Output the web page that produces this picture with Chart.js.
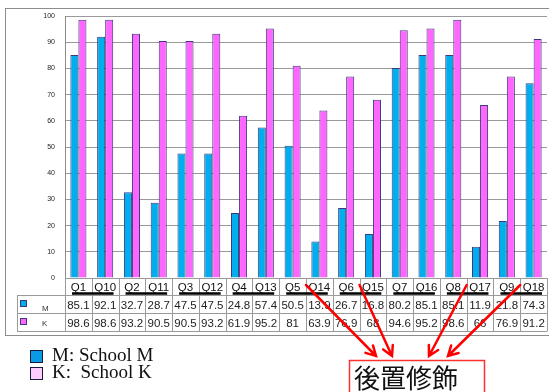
<!DOCTYPE html>
<html>
<head>
<meta charset="utf-8">
<script src="https://cdn.jsdelivr.net/npm/chart.js@4/dist/chart.umd.min.js"></script>
<style>
  html, body { margin: 0; padding: 0; background: #fff; }
  #wrap { width: 549px; height: 392px; position: relative; }
</style>
</head>
<body>
<div id="wrap"><canvas id="c" width="549" height="392"></canvas></div>
<script>
// Question labels (paired: Qn with its counterpart)
const questions = ['Q1','Q10','Q2','Q11','Q3','Q12','Q4','Q13','Q5','Q14','Q6','Q15','Q7','Q16','Q8','Q17','Q9','Q18'];
// Percentage correct, School M
const schoolM = [85.1,92.1,32.7,28.7,47.5,47.5,24.8,57.4,50.5,13.9,26.7,16.8,80.2,85.1,85.1,11.9,21.8,74.3];
// Percentage correct, School K
const schoolK = [98.6,98.6,93.2,90.5,90.5,93.2,61.9,95.2,81,63.9,76.9,68,94.6,95.2,98.6,66,76.9,91.2];
// Row names for the data table and legend texts
const seriesNames = ['M','K'];
const legendTexts = ['M: School M','K:  School K'];
// Pairs pointed to by the annotation arrows (index of first question in pair)
const arrowPairs = [8, 10, 14, 16];
const annotationText = '後置修飾';

const BLUE = '#00AEEF';
const MAGENTA = '#FF66FF';
const EDGE = '#3A3A7A';
const GRID = '#9a9a9a';

const tablePlugin = {
  id: 'tablePlugin',
  afterDraw(chart) {
    const ctx = chart.ctx;
    const xs = chart.scales.x;
    const area = chart.chartArea;
    const n = questions.length;
    const step = (area.right - area.left) / n;
    const rowTop = 295.5, rowMid = 313.5, rowBot = 331.5;

    ctx.save();
    // outer frame
    ctx.strokeStyle = '#8c8c8c';
    ctx.lineWidth = 1;
    ctx.strokeRect(5.5, 8.5, 600, 327);

    // table grid
    ctx.strokeStyle = GRID;
    ctx.beginPath();
    [rowTop, rowMid, rowBot].forEach(y => { ctx.moveTo(17, y); ctx.lineTo(area.right, y); });
    ctx.moveTo(17.5, rowTop); ctx.lineTo(17.5, rowBot);
    for (let i = 0; i <= n; i++) {
      const x = Math.round(xs.getPixelForValue(i) - step / 2) + 0.5;
      ctx.moveTo(x, area.bottom); ctx.lineTo(x, rowBot);
    }
    ctx.stroke();

    // row headers with small colour keys
    const rows = [schoolM, schoolK];
    const colors = [BLUE, MAGENTA];
    const rowCenters = [(rowTop + rowMid) / 2, (rowMid + rowBot) / 2];
    rows.forEach((vals, r) => {
      const cy = rowCenters[r];
      ctx.fillStyle = colors[r];
      ctx.fillRect(21, Math.round(cy) - 4, 5, 5);
      ctx.strokeStyle = EDGE;
      ctx.strokeRect(20.5, Math.round(cy) - 4.5, 6, 6);
      ctx.fillStyle = '#333';
      ctx.font = '8px "Liberation Sans"';
      ctx.textAlign = 'left';
      ctx.textBaseline = 'middle';
      ctx.fillText(seriesNames[r], 42, cy + (r === 0 ? 4 : 1));
      ctx.font = '11.5px "Liberation Sans"';
      ctx.textAlign = 'center';
      ctx.fillStyle = '#222';
      vals.forEach((v, i) => {
        ctx.fillText(String(v), xs.getPixelForValue(i), cy + 1);
      });
    });

    // underlines grouping each pair of questions
    ctx.strokeStyle = '#000';
    ctx.lineWidth = 2.5;
    ctx.beginPath();
    for (let i = 0; i < n; i += 2) {
      const l = xs.getPixelForValue(i) - step / 2 + 7;
      const r = xs.getPixelForValue(i + 1) + step / 2 - 5;
      ctx.moveTo(l, 293.5); ctx.lineTo(r, 293.5);
    }
    ctx.stroke();

    // annotation box
    ctx.strokeStyle = '#FF3030';
    ctx.lineWidth = 1.5;
    ctx.strokeRect(349.5, 360.5, 135, 40);
    ctx.fillStyle = '#111';
    ctx.font = '26px "Noto Sans CJK JP"';
    ctx.textAlign = 'left';
    ctx.textBaseline = 'middle';
    ctx.fillText(annotationText, 354, 378);

    // arrows from each pair to the box
    const ends = [[376, 356], [392, 356], [429, 356], [448, 356]];
    ctx.strokeStyle = '#FF0000';
    ctx.lineWidth = 2.5;
    ctx.lineCap = 'round';
    arrowPairs.forEach((p, k) => {
      const sx = (xs.getPixelForValue(p) + xs.getPixelForValue(p + 1)) / 2;
      const sy = 285;
      const [ex, ey] = ends[k];
      const ang = Math.atan2(ey - sy, ex - sx);
      const hl = 11, ha = 0.5;
      ctx.beginPath();
      ctx.moveTo(sx, sy); ctx.lineTo(ex, ey);
      ctx.moveTo(ex - hl * Math.cos(ang - ha), ey - hl * Math.sin(ang - ha));
      ctx.lineTo(ex, ey);
      ctx.lineTo(ex - hl * Math.cos(ang + ha), ey - hl * Math.sin(ang + ha));
      ctx.stroke();
    });

    // legend below the chart
    const legColors = ['#0A9BE6', '#FFCCFF'];
    ctx.lineWidth = 1;
    ctx.strokeStyle = '#1a1a3a';
    ctx.font = '19px "Liberation Serif"';
    ctx.fillStyle = '#111';
    legendTexts.forEach((t, i) => {
      const y = 350 + i * 17;
      ctx.fillStyle = legColors[i];
      ctx.fillRect(30, y, 12, 12);
      ctx.strokeRect(30.5, y + 0.5, 12, 12);
      ctx.fillStyle = '#111';
      ctx.textBaseline = 'middle';
      ctx.fillText(t, 52, y + 6);
    });
    ctx.restore();
  }
};

new Chart(document.getElementById('c'), {
  type: 'bar',
  data: {
    labels: questions,
    datasets: [
      { label: seriesNames[0], data: schoolM, backgroundColor: BLUE, borderColor: EDGE, borderWidth: 1 },
      { label: seriesNames[1], data: schoolK, backgroundColor: MAGENTA, borderColor: EDGE, borderWidth: 1 }
    ]
  },
  options: {
    responsive: false,
    animation: false,
    devicePixelRatio: 1,
    layout: { padding: { left: 6, top: 16, right: 2, bottom: 0 } },
    datasets: { bar: { categoryPercentage: 0.6, barPercentage: 1.0 } },
    plugins: { legend: { display: false }, tooltip: { enabled: false } },
    scales: {
      x: {
        grid: { display: false },
        border: { display: false },
        ticks: { color: '#111', font: { family: 'Liberation Sans', size: 11.5 }, padding: -5, maxRotation: 0, autoSkip: false },
        afterFit(s) { s.height = 114; }
      },
      y: {
        min: 0, max: 100,
        ticks: { stepSize: 10, color: '#222', font: { family: 'Liberation Sans', size: 7 }, padding: 10 },
        grid: { color: GRID, drawTicks: false },
        border: { display: true, color: '#8c8c8c' },
        afterFit(s) { s.width = 59; }
      }
    }
  },
  plugins: [tablePlugin]
});
</script>
</body>
</html>
